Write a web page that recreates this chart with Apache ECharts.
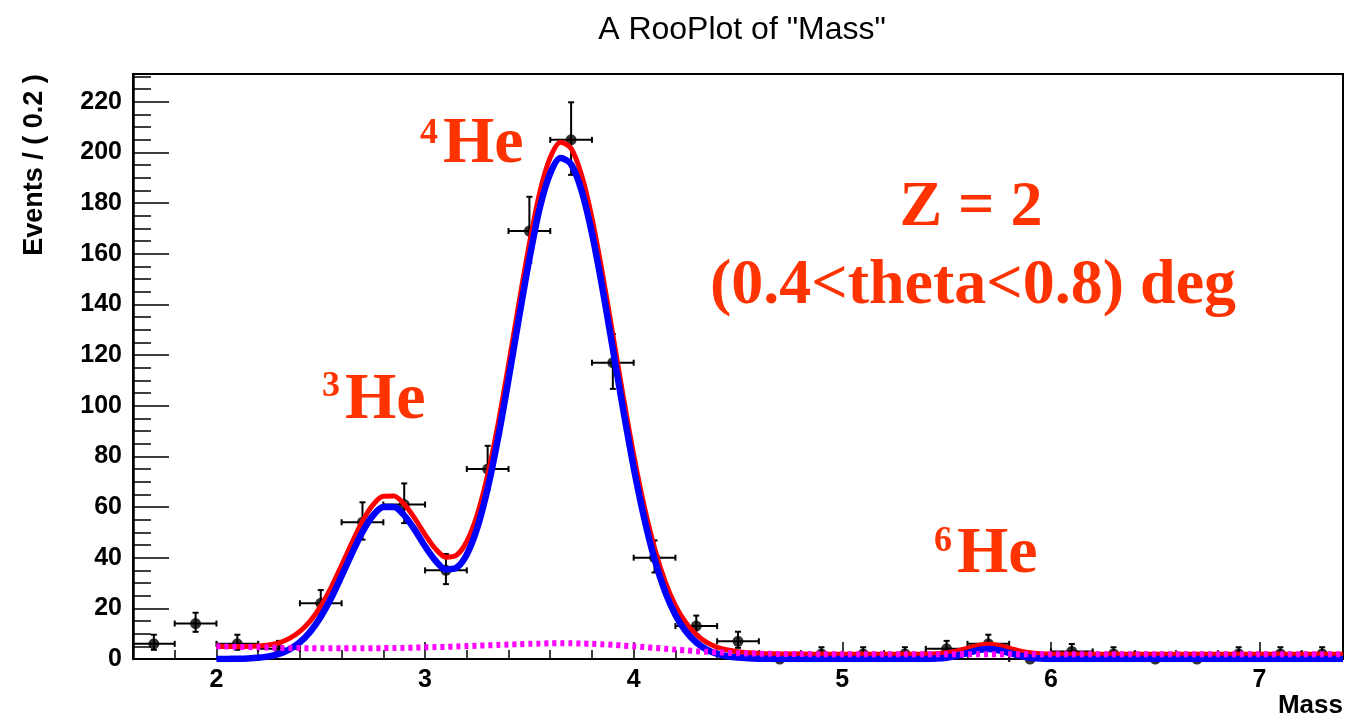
<!DOCTYPE html>
<html><head><meta charset="utf-8">
<script src="https://cdn.jsdelivr.net/npm/echarts@6/dist/echarts.min.js"></script>
<style>html,body{margin:0;padding:0;background:#fff}#c{width:1351px;height:717px}</style>
</head><body><div id="c"></div>
<script>
// ---- data ----
const binCenters = [1.7,1.9,2.1,2.3,2.5,2.7,2.9,3.1,3.3,3.5,3.7,3.9,4.1,4.3,4.5,4.7,4.9,5.1,5.3,5.5,5.7,5.9,6.1,6.3,6.5,6.7,6.9,7.1,7.3];
const counts     = [6,14,6,4,22,54,61,35,75,169,205,117,40,13,7,0,2,2,2,4,6,0,3,2,0,0,2,2,2];
const errLow     = [2.38,3.27,2.38,1.91,4.22,6.87,7.33,5.44,8.18,12.51,13.83,10.33,5.84,3.14,2.58,0,1.29,1.29,1.29,1.91,2.38,0,1.63,1.29,0,0,1.29,1.29,1.29];
const errHigh    = [3.58,4.27,3.58,3.16,5.22,7.87,8.33,6.44,9.18,13.51,14.83,11.33,6.84,4.14,3.77,1.84,2.64,2.64,2.64,3.16,3.58,1.84,2.92,2.64,1.84,1.84,2.64,2.64,2.64];
const binHalfWidth = 0.1;

const curveMass = [2.00,2.05,2.10,2.15,2.20,2.25,2.30,2.35,2.40,2.45,2.50,2.55,2.60,2.65,2.70,2.75,2.80,2.85,2.90,2.95,
  3.00,3.05,3.10,3.15,3.20,3.25,3.30,3.35,3.40,3.45,3.50,3.55,3.60,3.65,3.70,3.75,3.80,3.85,3.90,3.95,
  4.00,4.05,4.10,4.15,4.20,4.25,4.30,4.35,4.40,4.45,4.50,4.55,4.60,4.65,4.70,
  4.80,4.90,5.00,5.10,5.20,5.30,
  5.40,5.45,5.50,5.55,5.60,5.65,5.70,5.75,5.80,5.85,5.90,5.95,6.00,
  6.10,6.20,6.30,6.40,6.50,6.60,6.70,6.80,6.90,7.00,7.10,7.20,7.30,7.40];
const totalPdf = [5.0,4.94,4.89,4.92,5.09,5.53,6.4,8.15,10.9,15.05,20.9,28.3,37.0,46.0,54.4,60.85,64.3,64.35,61.1,55.6,
  49.1,43.5,40.2,40.95,46.4,56.95,72.7,92.85,116.1,140.55,164.0,184.3,198.0,204.05,201.6,191.1,174.1,152.3,128.1,103.6,
  80.6,60.5,43.8,30.75,21.1,14.3,9.6,6.55,4.65,3.53,2.85,2.47,2.22,2.1,2.02,
  1.95,1.9,1.9,1.9,1.9,1.9,
  1.94,2.07,2.43,3.17,4.27,5.34,5.8,5.34,4.27,3.17,2.43,2.07,1.94,
  1.9,1.9,1.9,1.9,1.9,1.9,1.9,1.9,1.9,1.9,1.9,1.9,1.9,1.9];
const signalPdf = [0.0,0.04,0.09,0.22,0.49,1.03,2.0,3.8,6.6,10.8,16.7,24.1,32.8,41.8,50.2,56.6,60.0,60.0,56.7,51.1,
  44.5,38.8,35.4,36.0,41.3,51.7,67.3,87.3,110.4,134.7,158.0,178.2,191.8,197.8,195.4,185.0,168.1,146.5,122.5,98.3,
  75.6,55.8,39.4,26.7,17.4,10.9,6.5,3.7,2.05,1.08,0.55,0.27,0.12,0.05,0.02,
  0,0,0,0,0,0,
  0.04,0.17,0.53,1.27,2.37,3.44,3.9,3.44,2.37,1.27,0.53,0.17,0.04,
  0,0,0,0,0,0,0,0,0,0,0,0,0,0];
const bkgPdf = [5.0,4.9,4.8,4.7,4.6,4.5,4.4,4.35,4.3,4.25,4.2,4.2,4.2,4.2,4.2,4.25,4.3,4.35,4.4,4.5,
  4.6,4.7,4.8,4.95,5.1,5.25,5.4,5.55,5.7,5.85,6.0,6.1,6.2,6.25,6.2,6.1,6.0,5.8,5.6,5.3,
  5.0,4.7,4.4,4.05,3.7,3.4,3.1,2.85,2.6,2.45,2.3,2.2,2.1,2.05,2.0,
  1.95,1.9,1.9,1.9,1.9,1.9,
  1.9,1.9,1.9,1.9,1.9,1.9,1.9,1.9,1.9,1.9,1.9,1.9,1.9,
  1.9,1.9,1.9,1.9,1.9,1.9,1.9,1.9,1.9,1.9,1.9,1.9,1.9,1.9];

const xMajorTicks = [2,3,4,5,6,7];
const yMajorTicks = [0,20,40,60,80,100,120,140,160,180,200,220];
const xRange = [1.6, 7.4];
const yRange = [0, 231];

// ---- chart ----
const SANS = 'Liberation Sans, Arial, Helvetica, sans-serif';
const SERIF = 'Liberation Serif, Times New Roman, serif';
const ANN = '#ff3300';
const chart = echarts.init(document.getElementById('c'), null, {renderer: 'canvas'});

const pair = ys => curveMass.map((x, i) => [x, ys[i]]);
const errRows = binCenters.map((x, i) => [x, counts[i], errLow[i], errHigh[i]]);

const axisLineStyle = {color: '#000', width: 2};

chart.setOption({
  animation: false,
  backgroundColor: '#fff',
  grid: {left: 133, right: 8, top: 74, bottom: 58, show: true, borderColor: '#000', borderWidth: 2, backgroundColor: 'transparent'},
  xAxis: [
    {type: 'value', min: xRange[0], max: xRange[1], interval: 0.2, position: 'bottom',
     axisLine: {show: true, lineStyle: axisLineStyle},
     axisTick: {show: true, inside: true, length: 9, lineStyle: {color: '#000', width: 1.5}},
     axisLabel: {show: false}, splitLine: {show: false}},
    {type: 'value', min: xRange[0], max: xRange[1], position: 'bottom',
     axisLine: {show: false},
     axisTick: {show: true, inside: true, length: 17, customValues: xMajorTicks, lineStyle: {color: '#000', width: 1.5}},
     axisLabel: {show: true, customValues: xMajorTicks, margin: 9, color: '#000', fontFamily: SANS, fontWeight: 'bold', fontSize: 25},
     splitLine: {show: false}}
  ],
  yAxis: [
    {type: 'value', min: yRange[0], max: yRange[1], interval: 5, position: 'left',
     axisLine: {show: true, lineStyle: {color: '#000', width: 2.5}},
     axisTick: {show: true, inside: true, length: 18, lineStyle: {color: '#000', width: 1.5}},
     axisLabel: {show: false}, splitLine: {show: false}},
    {type: 'value', min: yRange[0], max: yRange[1], position: 'left',
     axisLine: {show: false},
     axisTick: {show: true, inside: true, length: 36, customValues: yMajorTicks, lineStyle: {color: '#000', width: 1.5}},
     axisLabel: {show: true, customValues: yMajorTicks, margin: 11, color: '#000', fontFamily: SANS, fontWeight: 'bold', fontSize: 25},
     splitLine: {show: false}}
  ],
  series: [
    {type: 'custom', name: 'errors', xAxisIndex: 0, yAxisIndex: 0, z: 2, clip: false,
     data: errRows,
     encode: {x: 0, y: 1},
     renderItem: function (params, api) {
       const x = api.value(0), y = api.value(1), lo = api.value(2), hi = api.value(3);
       const c = api.coord([x, y]);
       const l = api.coord([x - binHalfWidth, y]);
       const r = api.coord([x + binHalfWidth, y]);
       const t = api.coord([x, y + hi]);
       const b = api.coord([x, y - lo]);
       const st = {stroke: '#000', lineWidth: 2};
       const cap = 3;
       const kids = [
         {type: 'line', shape: {x1: l[0], y1: c[1], x2: r[0], y2: c[1]}, style: st},
         {type: 'line', shape: {x1: l[0], y1: c[1] - cap, x2: l[0], y2: c[1] + cap}, style: st},
         {type: 'line', shape: {x1: r[0], y1: c[1] - cap, x2: r[0], y2: c[1] + cap}, style: st}
       ];
       if (hi > 0) {
         kids.push({type: 'line', shape: {x1: c[0], y1: c[1], x2: c[0], y2: t[1]}, style: st});
         kids.push({type: 'line', shape: {x1: c[0] - cap, y1: t[1], x2: c[0] + cap, y2: t[1]}, style: st});
       }
       if (lo > 0) {
         kids.push({type: 'line', shape: {x1: c[0], y1: c[1], x2: c[0], y2: b[1]}, style: st});
         kids.push({type: 'line', shape: {x1: c[0] - cap, y1: b[1], x2: c[0] + cap, y2: b[1]}, style: st});
       }
       return {type: 'group', children: kids};
     }},
    {type: 'scatter', name: 'data', xAxisIndex: 0, yAxisIndex: 0, z: 3, clip: false,
     symbol: 'circle', symbolSize: 11, itemStyle: {color: '#000'},
     data: binCenters.map((x, i) => [x, counts[i]])},
    {type: 'line', name: 'total', xAxisIndex: 0, yAxisIndex: 0, z: 4, data: pair(totalPdf),
     showSymbol: false, smooth: 0.3, clip: true, lineStyle: {color: '#ff0000', width: 5}},
    {type: 'line', name: 'signal', xAxisIndex: 0, yAxisIndex: 0, z: 5, data: pair(signalPdf),
     showSymbol: false, smooth: 0.3, clip: true, lineStyle: {color: '#0000ff', width: 6.5}},
    {type: 'line', name: 'background', xAxisIndex: 0, yAxisIndex: 0, z: 6, data: pair(bkgPdf),
     showSymbol: false, smooth: 0.3, clip: true, lineStyle: {color: '#ff00ff', width: 6, type: [4, 4], cap: 'butt'}}
  ],
  graphic: [
    {type: 'text', x: 742, y: 30, style: {text: 'A RooPlot of "Mass"', fontFamily: SANS, fontSize: 32, fill: '#000', align: 'center', verticalAlign: 'middle'}},
    {type: 'text', x: 35, y: 165, rotation: Math.PI / 2, style: {text: 'Events / ( 0.2 )', fontFamily: SANS, fontWeight: 'bold', fontSize: 27, fill: '#000', align: 'center', verticalAlign: 'middle'}},
    {type: 'text', x: 1343, y: 706, style: {text: 'Mass', fontFamily: SANS, fontWeight: 'bold', fontSize: 26, fill: '#000', align: 'right', verticalAlign: 'middle'}},
    {type: 'text', x: 971, y: 208, style: {text: 'Z = 2', fontFamily: SERIF, fontWeight: 'bold', fontSize: 64, fill: ANN, align: 'center', verticalAlign: 'middle'}},
    {type: 'text', x: 973, y: 286, style: {text: '(0.4<theta<0.8) deg', fontFamily: SERIF, fontWeight: 'bold', fontSize: 64, fill: ANN, align: 'center', verticalAlign: 'middle'}},
    {type: 'text', x: 420, y: 134, style: {text: '4', fontFamily: SERIF, fontWeight: 'bold', fontSize: 36, fill: ANN, align: 'left', verticalAlign: 'middle'}},
    {type: 'text', x: 443, y: 145, style: {text: 'He', fontFamily: SERIF, fontWeight: 'bold', fontSize: 66, fill: ANN, align: 'left', verticalAlign: 'middle'}},
    {type: 'text', x: 322, y: 387, style: {text: '3', fontFamily: SERIF, fontWeight: 'bold', fontSize: 36, fill: ANN, align: 'left', verticalAlign: 'middle'}},
    {type: 'text', x: 345, y: 401, style: {text: 'He', fontFamily: SERIF, fontWeight: 'bold', fontSize: 66, fill: ANN, align: 'left', verticalAlign: 'middle'}},
    {type: 'text', x: 934, y: 542, style: {text: '6', fontFamily: SERIF, fontWeight: 'bold', fontSize: 36, fill: ANN, align: 'left', verticalAlign: 'middle'}},
    {type: 'text', x: 957, y: 555, style: {text: 'He', fontFamily: SERIF, fontWeight: 'bold', fontSize: 66, fill: ANN, align: 'left', verticalAlign: 'middle'}}
  ]
});
</script>
</body></html>
